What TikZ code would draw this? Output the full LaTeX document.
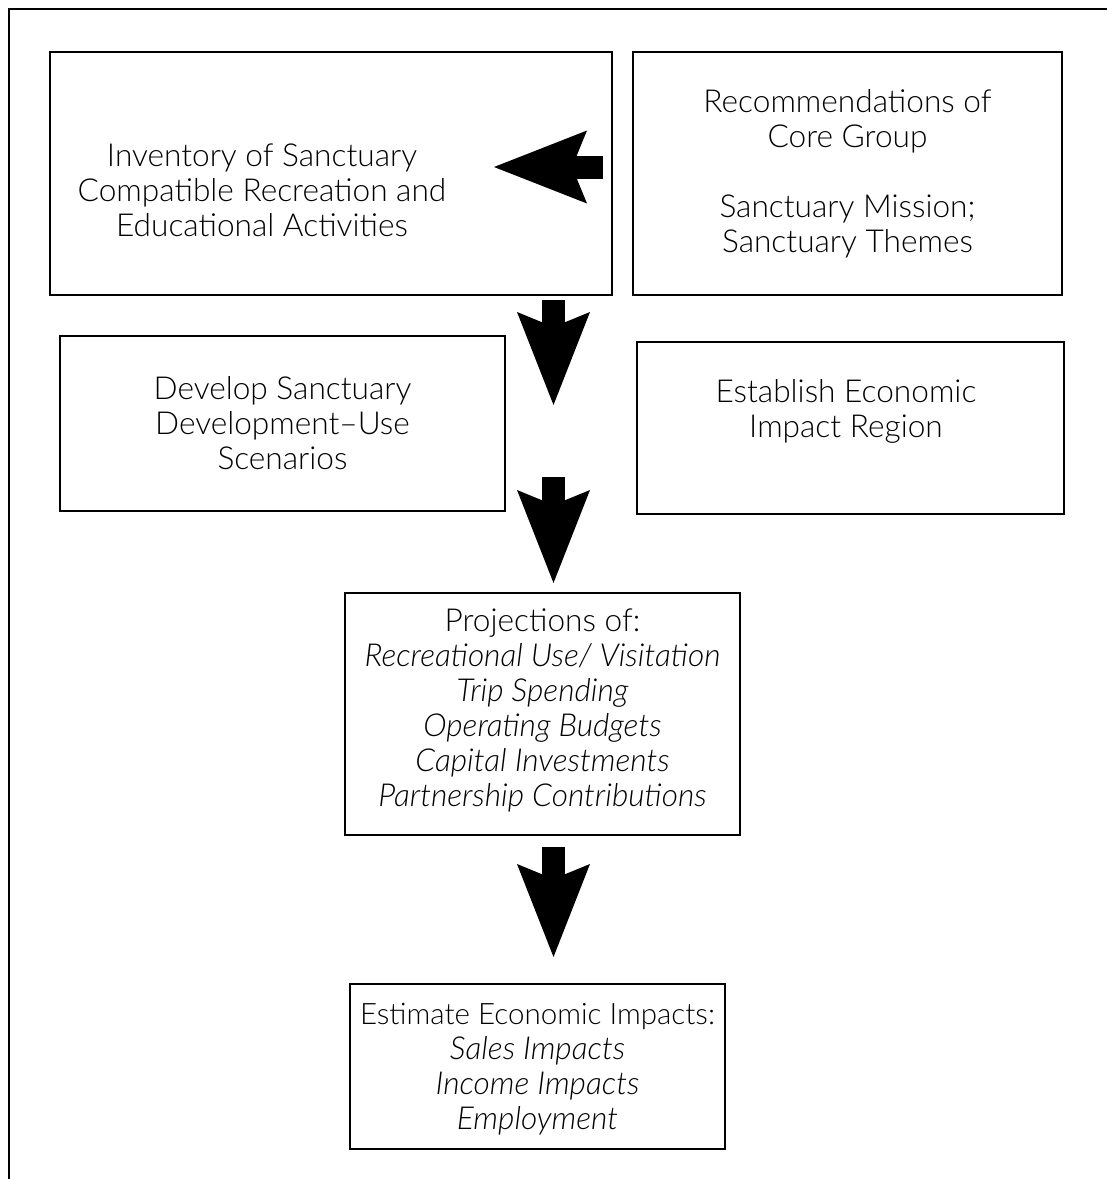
\documentclass[tikz,border=0pt]{standalone}
\usepackage{fontspec}
\setmainfont{Lato Light}[ItalicFont={Lato Light Italic}]
\usetikzlibrary{arrows.meta}

\tikzset{
  panel/.style={draw, line width=1.3pt, inner sep=0pt},
  paneltext/.style={align=center, inner sep=0pt, font=\fontsize{22.5}{24.9}\selectfont},
  bigarrow/.style={line width=0.575cm,
    -{Stealth[length=2.325cm, width=1.825cm, inset=0.375cm, line width=0pt]}},
}

\begin{document}
\begin{tikzpicture}[x=0.025cm, y=-0.025cm]
\useasboundingbox (0,0) rectangle (1107,1179);

% outer frame
\draw[line width=1.4pt] (9,1179) -- (9,9) -- (1107,9);

% boxes
\node[panel, minimum width=14.05cm, minimum height=6.075cm] (inventory) at (331,173.5) {};
\node[paneltext] (inventorytext) at (262,190) {Inventory of Sanctuary\\Compatible Recreation and\\Educational Activities};

\node[panel, minimum width=10.725cm, minimum height=6.075cm] (recommend) at (847.5,173.5) {};
\node[paneltext] (recommendtext) at (847.5,173.5) {Recommendations of\\Core Group\\[24.9pt]Sanctuary Mission;\\Sanctuary Themes};

\node[panel, minimum width=11.125cm, minimum height=4.375cm] (develop) at (282.5,423.5) {};
\node[paneltext] (developtext) at (282.5,423.5) {Develop Sanctuary\\Development–Use\\Scenarios};

\node[panel, minimum width=10.675cm, minimum height=4.3cm] (region) at (850.5,428) {};
\node[paneltext] (regiontext) at (846,411) {Establish Economic\\Impact Region};

\node[panel, minimum width=9.875cm, minimum height=6.05cm] (project) at (542.5,714) {};
\node[paneltext] (projecttext) at (542.5,710) {Projections of:\\\itshape Recreational Use/ Visitation\\\itshape Trip Spending\\\itshape Operating Budgets\\\itshape Capital Investments\\\itshape Partnership Contributions};

\node[panel, minimum width=9.375cm, minimum height=4.125cm] (impact) at (537.5,1066.5) {};
\node[paneltext] (impacttext) at (537.5,1069) {{\fontsize{21}{24.9}\selectfont Estimate Economic Impacts:}\\\itshape Sales Impacts\\\itshape Income Impacts\\\itshape Employment};

% block arrows
\coordinate (leftstart) at (603,167);
\coordinate (lefttip) at (494,167);
\coordinate (downastart) at (553.5,300);
\coordinate (downatip) at (553.5,405);
\coordinate (downbstart) at (553.5,477);
\coordinate (downbtip) at (553.5,583);
\coordinate (downcstart) at (553.5,847);
\coordinate (downctip) at (553.5,957);
\draw[bigarrow] (leftstart) -- (lefttip);
\draw[bigarrow] (downastart) -- (downatip);
\draw[bigarrow] (downbstart) -- (downbtip);
\draw[bigarrow] (downcstart) -- (downctip);
\end{tikzpicture}
\end{document}
